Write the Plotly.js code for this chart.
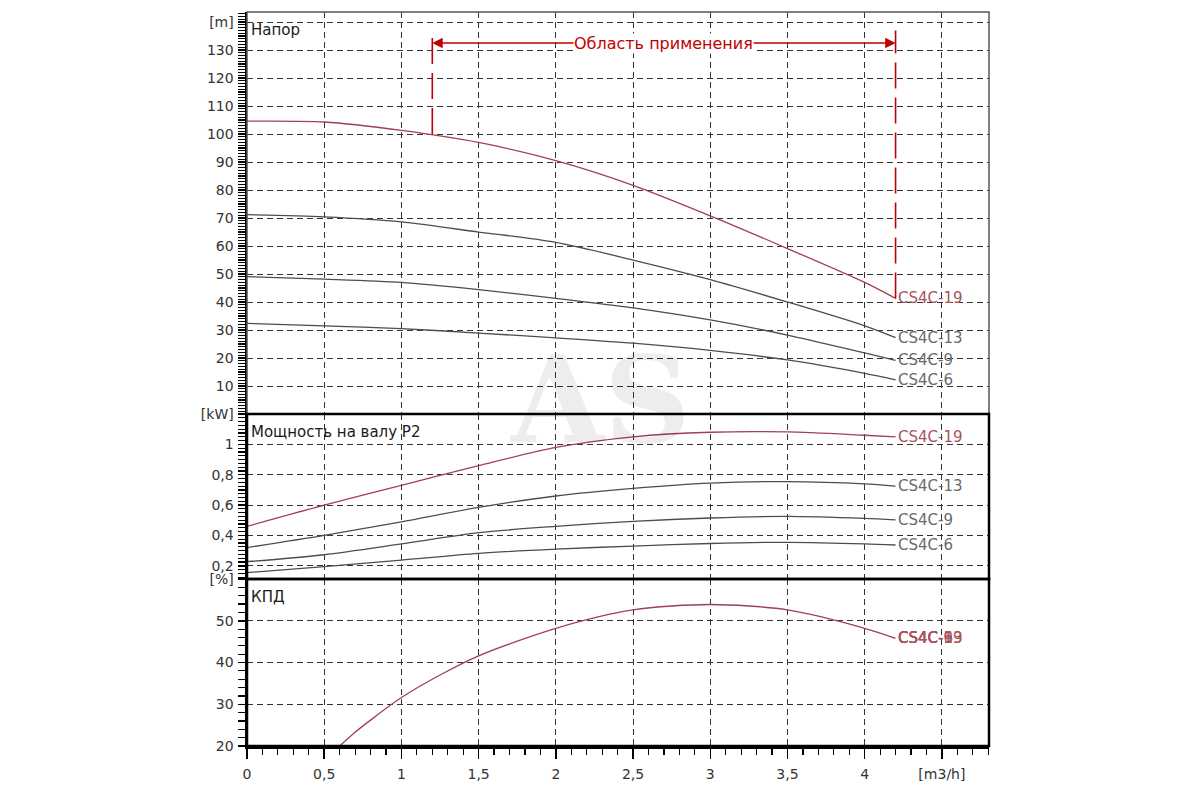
<!DOCTYPE html>
<html>
<head>
<meta charset="utf-8">
<script src="https://cdn.plot.ly/plotly-3.0.1.min.js"></script>
<style>html,body{margin:0;padding:0;background:#fff}</style>
</head>
<body>
<div id="chart" style="width:1200px;height:800px"></div>
<script>
  // flow, m3/h
  var flow = [0, 0.5, 1, 1.5, 2, 2.5, 3, 3.5, 4, 4.2];

  // head, m
  var head19 = [104.6, 104.3, 101.3, 97, 90.5, 81.7, 70.8, 59.1, 47, 41.3];
  var head13 = [71.2, 70.4, 68.6, 65, 61.3, 55, 48, 40, 31.5, 27.3];
  var head9 = [49.1, 48.2, 47, 44.4, 41.3, 37.9, 33.6, 28.2, 21.8, 19.2];
  var head6 = [32.4, 31.5, 30.5, 28.9, 27.2, 25.3, 22.7, 19.3, 14.5, 12.2];

  // shaft power P2, kW
  var power19 = [0.46, 0.6, 0.73, 0.86, 0.98, 1.05, 1.08, 1.082, 1.06, 1.05];
  var power13 = [0.32, 0.4, 0.49, 0.585, 0.66, 0.71, 0.745, 0.755, 0.74, 0.725];
  var power9 = [0.227, 0.273, 0.344, 0.418, 0.46, 0.493, 0.515, 0.525, 0.512, 0.503];
  var power6 = [0.155, 0.195, 0.238, 0.282, 0.31, 0.33, 0.347, 0.355, 0.345, 0.337];

  // efficiency, %
  var effFlow = [0.6, 0.7, 0.8, 1, 1.25, 1.5, 2, 2.5, 3, 3.5, 4, 4.2];
  var eff19 = [20, 23.3, 26.2, 31.6, 37, 41.6, 48.2, 52.6, 53.9, 52.6, 48.2, 45.8];

  var models = ['CS4C-19', 'CS4C-13', 'CS4C-9', 'CS4C-6'];

  // application range
  var appFlow = [1.2, 4.2];
  var appHead = [100, 41.3];
  var appTop = 137;
  var arrowLevel = 132.5;

  // tick labels
  var xTicks = [0, 0.5, 1, 1.5, 2, 2.5, 3, 3.5, 4, 4.5];
  var xTickText = ['0', '0,5', '1', '1,5', '2', '2,5', '3', '3,5', '4', '[m3/h]'];
  var headTicks = [10, 20, 30, 40, 50, 60, 70, 80, 90, 100, 110, 120, 130, 140];
  var headTickText = ['10', '20', '30', '40', '50', '60', '70', '80', '90', '100', '110', '120', '130', '[m]'];
  var powerTicks = [0.2, 0.4, 0.6, 0.8, 1, 1.2];
  var powerTickText = ['0,2', '0,4', '0,6', '0,8', '1', '[kW]'];
  var effTicks = [20, 30, 40, 50, 60];
  var effTickText = ['20', '30', '40', '50', '[%]'];

  var red = '#9e4150';
  var gray = '#4d4d4d';
  var appRed = '#c00000';
  var font = 'DejaVu Sans, Liberation Sans, sans-serif';

  function curve(x, y, color, yaxis) {
    return {
      x: x,
      y: y,
      yaxis: yaxis,
      mode: 'lines',
      line: {shape: 'spline', smoothing: 0.8, color: color, width: 1.3},
      hoverinfo: 'skip',
      type: 'scatter'
    };
  }

  var headSeries = [head19, head13, head9, head6];
  var powerSeries = [power19, power13, power9, power6];
  var colors = [red, gray, gray, gray];

  var data = [];
  headSeries.forEach(function (s, i) { data.push(curve(flow, s, colors[i], 'y3')); });
  powerSeries.forEach(function (s, i) { data.push(curve(flow, s, colors[i], 'y2')); });
  data.push(curve(effFlow, eff19, red, 'y'));

  // application range markers
  appFlow.forEach(function (q, i) {
    data.push({
      x: [q, q],
      y: [appHead[i], appTop],
      yaxis: 'y3',
      mode: 'lines',
      line: {color: appRed, width: 1.6, dash: '26px,9px'},
      hoverinfo: 'skip',
      type: 'scatter'
    });
  });

  var annotations = [];
  function label(x, y, text, color, yref) {
    annotations.push({
      x: x, y: y, xref: 'x', yref: yref, text: text,
      showarrow: false, xanchor: 'left', yanchor: 'middle',
      font: {family: font, size: 15, color: color}
    });
  }
  var textColors = ['#a8525f', '#6a6a6a', '#6a6a6a', '#6a6a6a'];
  var last = flow.length - 1;
  models.forEach(function (m, i) {
    label(flow[last], headSeries[i][last], m, textColors[i], 'y3');
    label(flow[last], powerSeries[i][last], m, textColors[i], 'y2');
    // the reference prints all four model names on top of each other here
    label(effFlow[effFlow.length - 1], eff19[eff19.length - 1], m, '#a8525f', 'y');
  });

  var mid = (appFlow[0] + appFlow[1]) / 2;
  [appFlow[0], appFlow[1]].forEach(function (q) {
    annotations.push({
      x: q, y: arrowLevel, xref: 'x', yref: 'y3',
      ax: mid, ay: arrowLevel, axref: 'x', ayref: 'y3',
      text: '', showarrow: true, arrowhead: 2, arrowsize: 1.3,
      arrowwidth: 1.6, arrowcolor: appRed, standoff: 0
    });
  });
  annotations.push({
    x: mid, y: arrowLevel, xref: 'x', yref: 'y3',
    text: 'Область применения', showarrow: false,
    bgcolor: '#ffffff', borderpad: 0,
    font: {family: font, size: 16, color: appRed}
  });

  // panel titles
  [['Напор', 'y3'], ['Мощность на валу P2', 'y2'], ['КПД', 'y']].forEach(function (t) {
    annotations.push({
      x: 0, y: 1, xref: 'x domain', yref: t[1] + ' domain',
      text: t[0], showarrow: false, xanchor: 'left', yanchor: 'top',
      xshift: 2, yshift: -7,
      font: {family: font, size: 15, color: '#1a1a1a'}
    });
  });

  // watermark
  annotations.push({
    x: 0.476, y: 0.472, xref: 'paper', yref: 'paper',
    text: '<b>AS</b>', showarrow: false,
    font: {family: 'DejaVu Serif, Liberation Serif, serif', size: 120, color: 'rgba(0,0,0,0.07)'}
  });

  var grid = {showgrid: true, gridcolor: '#333', gridwidth: 1, griddash: '6px,4px', zeroline: false};
  var tickFont = {family: font, size: 14, color: '#333'};

  function yAxis(domain, range, ticks, text, minor) {
    return Object.assign({
      domain: domain, range: range, anchor: 'x',
      tickmode: 'array', tickvals: ticks, ticktext: text,
      ticks: 'outside', ticklen: 7, tickwidth: 1.5, tickcolor: '#000',
      ticklabelstandoff: 1,
      showline: true, linecolor: '#000', linewidth: 2.5,
      tickfont: tickFont,
      minor: {dtick: minor, ticks: 'outside', ticklen: 7, tickwidth: 1.2, tickcolor: '#000', showgrid: false}
    }, grid);
  }

  var layout = {
    width: 1200,
    height: 800,
    margin: {l: 247, r: 211, t: 12, b: 54},
    paper_bgcolor: '#fff',
    plot_bgcolor: '#fff',
    showlegend: false,
    xaxis: Object.assign({
      range: [0, 4.805], anchor: 'y',
      tickmode: 'array', tickvals: xTicks, ticktext: xTickText,
      ticks: 'outside', ticklen: 10, tickwidth: 1.5, tickcolor: '#000',
      ticklabelstandoff: 4,
      showline: true, linecolor: '#000', linewidth: 2.5,
      tickfont: tickFont,
      minor: {dtick: 0.1, tick0: 0, ticks: 'outside', ticklen: 6, tickwidth: 1.2, tickcolor: '#000', showgrid: false}
    }, grid),
    yaxis: yAxis([0, 0.2275], [20, 60], effTicks, effTickText, 2),
    yaxis2: yAxis([0.2275, 0.4523], [0.113, 1.2], powerTicks, powerTickText, 0.025),
    yaxis3: yAxis([0.4523, 1], [0, 143.6], headTicks, headTickText, 1),
    shapes: [
      {type: 'rect', xref: 'x domain', yref: 'y3 domain', x0: 0, x1: 1, y0: 0, y1: 1, line: {color: '#555', width: 1.5}},
      {type: 'rect', xref: 'x domain', yref: 'y2 domain', x0: 0, x1: 1, y0: 0, y1: 1, line: {color: '#000', width: 2.5}},
      {type: 'rect', xref: 'x domain', yref: 'y domain', x0: 0, x1: 1, y0: 0, y1: 1, line: {color: '#000', width: 2.5}}
    ],
    annotations: annotations
  };

  Plotly.newPlot('chart', data, layout, {displayModeBar: false, staticPlot: true});
</script>
</body>
</html>
